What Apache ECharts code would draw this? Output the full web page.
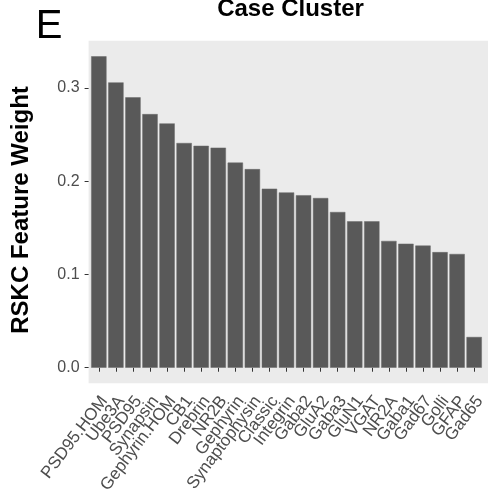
<!DOCTYPE html>
<html>
<head>
<meta charset="utf-8">
<script src="https://cdn.jsdelivr.net/npm/echarts@6/dist/echarts.min.js"></script>
<style>
  html, body { margin: 0; padding: 0; background: #ffffff; }
  #chart { width: 488px; height: 497px; }
</style>
</head>
<body>
<div id="chart"></div>
<script>
// feature names, sorted by weight
var features = [
  'PSD95.HOM', 'Ube3A', 'PSD95', 'Synapsin', 'Gephyrin.HOM', 'CB1', 'Drebrin',
  'NR2B', 'Gephyrin', 'Synaptophysin', 'Classic', 'Integrin', 'Gaba2', 'GluA2',
  'Gaba3', 'GluN1', 'VGAT', 'NR2A', 'Gaba1', 'Gad67', 'Golli', 'GFAP', 'Gad65'
];
var weights = [
  0.334, 0.306, 0.290, 0.272, 0.262, 0.241, 0.238,
  0.236, 0.220, 0.213, 0.192, 0.188, 0.185, 0.182,
  0.167, 0.157, 0.157, 0.136, 0.133, 0.131, 0.124, 0.122, 0.033
];
var yTicks = [0, 0.1, 0.2, 0.3];

(function () {
  var font = '"Liberation Sans", Arial, Helvetica, sans-serif';
  var chart = echarts.init(document.getElementById('chart'), null, { renderer: 'canvas' });

  // ggplot style: 5% expansion on the continuous axis
  var top = Math.max.apply(null, weights);
  var yMin = -top * 0.05;
  var yMax = top * 1.05;

  var option = {
    backgroundColor: '#ffffff',
    animation: false,
    graphic: [
      // panel background (wider than the bands, like ggplot's discrete expansion)
      {
        type: 'rect', z: -10, silent: true,
        shape: { x: 88.6, y: 40.7, width: 410, height: 342.6 },
        style: { fill: '#ebebeb' }
      },
      {
        type: 'text', x: 49, y: 27,
        style: { text: 'E', font: '40px ' + font, fill: '#000', align: 'center', verticalAlign: 'middle' }
      },
      {
        type: 'text', x: 290.5, y: 9,
        style: { text: 'Case Cluster', font: 'bold 24px ' + font, fill: '#000', align: 'center', verticalAlign: 'middle' }
      },
      {
        type: 'text', x: 21, y: 210, rotation: Math.PI / 2,
        style: { text: 'RSKC Feature Weight', font: 'bold 24px ' + font, fill: '#000', align: 'center', verticalAlign: 'middle' }
      }
    ],
    grid: { left: 90.3, top: 40.7, width: 400.2, height: 342.6, containLabel: false },
    xAxis: {
      type: 'category',
      data: features,
      axisLine: { show: false },
      axisTick: { show: true, alignWithLabel: true, length: 4, lineStyle: { color: '#333333', width: 1 } },
      axisLabel: {
        interval: 0, rotate: 53, margin: 22, padding: [0, -9, 0, 0],
        color: '#4d4d4d', fontSize: 17, fontFamily: font
      },
      splitLine: { show: false }
    },
    yAxis: {
      type: 'value',
      min: yMin, max: yMax,
      offset: 1.7,
      axisLine: { show: false },
      axisTick: { show: true, length: 4, customValues: yTicks, lineStyle: { color: '#333333', width: 1 } },
      axisLabel: {
        customValues: yTicks, margin: 9,
        color: '#4d4d4d', fontSize: 16, fontFamily: font,
        formatter: function (v) { return v.toFixed(1); }
      },
      splitLine: { show: false }
    },
    series: [{
      type: 'bar',
      data: weights,
      barWidth: '90%',
      itemStyle: { color: '#595959', borderColor: '#6a6a6a', borderWidth: 0.5 }
    }]
  };
  chart.setOption(option);
})();
</script>
</body>
</html>
